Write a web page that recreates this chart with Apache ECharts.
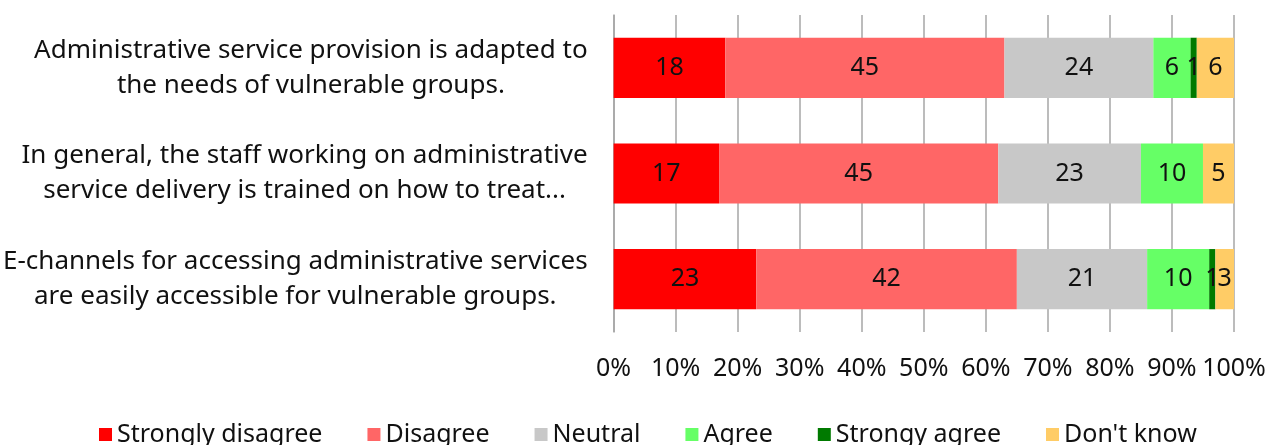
<!DOCTYPE html>
<html>
<head>
<meta charset="utf-8">
<script src="https://cdn.jsdelivr.net/npm/echarts@6/dist/echarts.min.js"></script>
<style>
  html, body { margin: 0; padding: 0; background: #fff; }
  #chart { width: 1269px; height: 445px; }
</style>
</head>
<body>
<div id="chart"></div>
<script>
// survey statements, top to bottom
const categories = [
  'Administrative service provision is adapted to\nthe needs of vulnerable groups.',
  'In general, the staff working on administrative\nservice delivery is trained on how to treat...',
  'E-channels for accessing administrative services\nare easily accessible for vulnerable groups.'
];

const stronglyDisagree = [18, 17, 23];
const disagree         = [45, 45, 42];
const neutral          = [24, 23, 21];
const agree            = [6, 10, 10];
const strongyAgree     = [1, 0, 1];
const dontKnow         = [6, 5, 3];

const percentTicks = [0, 10, 20, 30, 40, 50, 60, 70, 80, 90, 100];

const seriesDefs = [
  { name: 'Strongly disagree', data: stronglyDisagree, color: '#FF0000' },
  { name: 'Disagree',          data: disagree,         color: '#FF6666' },
  { name: 'Neutral',           data: neutral,          color: '#C8C8C8' },
  { name: 'Agree',             data: agree,            color: '#66FF66' },
  { name: 'Strongy agree',     data: strongyAgree,     color: '#007A00' },
  { name: "Don't know",        data: dontKnow,         color: '#FFCC66' }
];

const font = 'Noto Sans, sans-serif';
const chart = echarts.init(document.getElementById('chart'));

chart.setOption({
  animation: false,
  textStyle: { fontFamily: font },
  grid: { left: 611, right: 35, top: 15, bottom: 113, containLabel: false },
  legend: {
    bottom: -7,
    left: 94,
    icon: 'rect',
    itemWidth: 13,
    itemHeight: 13,
    itemGap: 45,
    textStyle: { fontSize: 25, color: '#111', fontFamily: font },
    data: seriesDefs.map(s => s.name)
  },
  xAxis: {
    type: 'value',
    min: percentTicks[0],
    max: percentTicks[percentTicks.length - 1],
    interval: 10,
    axisLine: { show: false },
    axisTick: { show: false },
    splitLine: { show: true, lineStyle: { color: '#A6A6A6', width: 1.5 } },
    axisLabel: {
      formatter: '{value}%',
      fontSize: 25,
      color: '#111',
      margin: 24
    }
  },
  yAxis: {
    type: 'category',
    inverse: true,
    data: categories,
    axisLine: { show: true, lineStyle: { color: '#A6A6A6', width: 1.5 } },
    axisTick: { show: false },
    axisLabel: {
      align: 'right',
      margin: 26,
      formatter: v => v.split('\n').map(l => '{c|' + l + '}').join('\n'),
      rich: {
        c: { align: 'center', fontSize: 26, lineHeight: 35, color: '#111', fontFamily: font }
      }
    }
  },
  series: seriesDefs.map(s => ({
    type: 'bar',
    name: s.name,
    stack: 'total',
    barWidth: '57%',
    data: s.data,
    itemStyle: { color: s.color },
    label: {
      show: true,
      position: 'inside',
      fontSize: 25,
      color: '#111',
      fontFamily: font,
      formatter: p => (p.value ? String(p.value) : '')
    }
  }))
});
</script>
</body>
</html>
